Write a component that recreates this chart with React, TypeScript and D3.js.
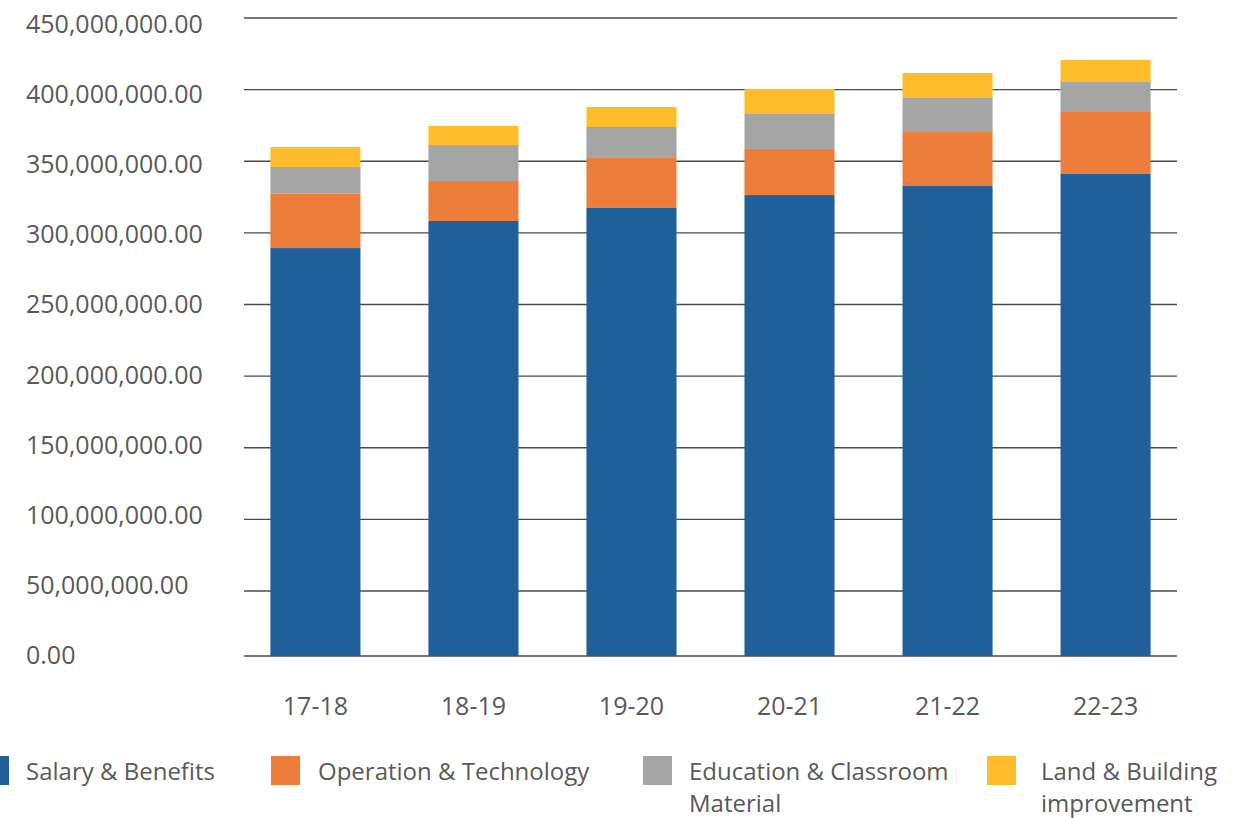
import React, { useEffect } from "react";
import * as d3 from "d3";

const categories = ["17-18", "18-19", "19-20", "20-21", "21-22", "22-23"];
const seriesNames = [
  "Salary & Benefits",
  "Operation & Technology",
  "Education & Classroom Material",
  "Land & Building improvement",
];
const salaryBenefits = [289.4e6, 308.3e6, 317.4e6, 326.4e6, 332.7e6, 341.1e6];
const operationTechnology = [38.0e6, 27.9e6, 34.9e6, 32.2e6, 37.7e6, 43.3e6];
const educationClassroom = [18.6e6, 25.1e6, 21.6e6, 24.4e6, 23.8e6, 20.9e6];
const landBuilding = [13.9e6, 13.3e6, 14.0e6, 17.5e6, 17.4e6, 15.4e6];
const yTicks = [0, 50e6, 100e6, 150e6, 200e6, 250e6, 300e6, 350e6, 400e6, 450e6];

const colors = ["#205f9a", "#ed7d3a", "#a5a5a5", "#fdbd2a"];
const legendLines = [
  ["Salary & Benefits"],
  ["Operation & Technology"],
  ["Education & Classroom", "Material"],
  ["Land & Building", "improvement"],
];
const legendSquareX = [-20, 271, 643, 987];
const legendTextX = [26, 318, 689, 1041];

const W = 1255;
const H = 818;
const FONT = "'Open Sans', 'Noto Sans', sans-serif";
const TEXT = "#595959";

export default function App() {
  useEffect(() => {
    document.body.style.margin = "0";
  }, []);

  const seriesValues = [salaryBenefits, operationTechnology, educationClassroom, landBuilding];
  const rows = categories.map((c, i) => {
    const r: any = { cat: c };
    seriesNames.forEach((s, k) => (r[s] = seriesValues[k][i]));
    return r;
  });
  const stacked = d3.stack().keys(seriesNames)(rows);

  const x = d3
    .scaleBand<string>()
    .domain(categories)
    .range([244, 1177])
    .paddingInner(0.43)
    .paddingOuter(0.167);
  const y = d3.scaleLinear().domain([0, 50e6, 450e6]).range([656, 591, 18]);
  const yLabel = d3.scaleLinear().domain([0, 450e6]).range([664, 33]);
  const fmt = d3.format(",.2f");

  return (
    <svg
      width={W}
      height={H}
      style={{ position: "absolute", left: 0, top: 0, background: "#fff" }}
      fontFamily={FONT}
    >
      <rect x={0} y={0} width={W} height={H} fill="#fff" />
      {yTicks.map((t) => (
        <line
          key={"g" + t}
          x1={244}
          x2={1177}
          y1={y(t)}
          y2={y(t)}
          stroke="#4a4a4a"
          strokeWidth={1.4}
        />
      ))}
      {yTicks.map((t) => (
        <text key={"l" + t} x={26} y={yLabel(t)} fontSize={25} fill={TEXT}>
          {fmt(t)}
        </text>
      ))}
      {stacked.map((s, k) => (
        <g key={s.key} fill={colors[k]}>
          {s.map((d: any, i: number) => (
            <rect
              key={i}
              x={x(d.data.cat)}
              width={x.bandwidth()}
              y={y(d[1])}
              height={y(d[0]) - y(d[1])}
            />
          ))}
        </g>
      ))}
      {categories.map((c) => (
        <text
          key={"x" + c}
          x={(x(c) as number) + x.bandwidth() / 2}
          y={715}
          fontSize={25}
          fill={TEXT}
          textAnchor="middle"
        >
          {c}
        </text>
      ))}
      {legendLines.map((lines, k) => (
        <g key={"lg" + k}>
          <rect x={legendSquareX[k]} y={756} width={29} height={29} fill={colors[k]} />
          {lines.map((ln, j) => (
            <text key={j} x={legendTextX[k]} y={780 + j * 32} fontSize={24} fill={TEXT}>
              {ln}
            </text>
          ))}
        </g>
      ))}
    </svg>
  );
}
